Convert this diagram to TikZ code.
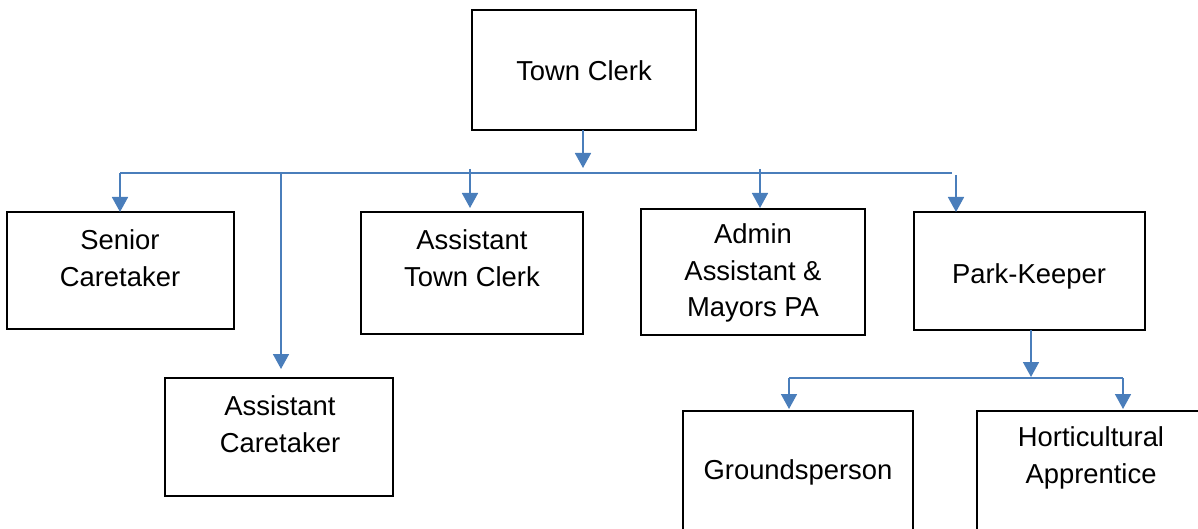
\documentclass[tikz,border=0pt]{standalone}
\usepackage{fontspec}
\setmainfont{Liberation Sans}
\usetikzlibrary{arrows.meta}
\definecolor{linkblue}{RGB}{74,126,187}
\begin{document}
\begin{tikzpicture}[x=1pt,y=-1pt,
  box/.style={draw=black,line width=1.1pt,fill=white},
  lbl/.style={inner sep=0pt,align=center,font=\fontsize{27.4}{36.5}\selectfont},
  link/.style={draw=linkblue,line width=1.7pt},
  arr/.style={link,-{Triangle[width=16pt,length=15pt]}}]
\useasboundingbox (0,0) rectangle (1198,529);
\clip (0,0) rectangle (1198,529);
% boxes
\draw[box] (472,10) rectangle (696,130);
\draw[box] (7,212) rectangle (234,329);
\draw[box] (165,378) rectangle (393,496);
\draw[box] (361,212) rectangle (583,334);
\draw[box] (641,209) rectangle (865,335);
\draw[box] (914,212) rectangle (1145,330);
\draw[box] (683,411) rectangle (913,545);
\draw[box] (977,411) rectangle (1210,545);
% named anchors
\coordinate (tcB) at (583,130);
\coordinate (tcT) at (583,168);
\coordinate (hL) at (120,173);
\coordinate (hR) at (952,173);
\coordinate (scT) at (120,212);
\coordinate (acS) at (281,173);
\coordinate (acT) at (281,369);
\coordinate (atcS) at (470,169);
\coordinate (atcT) at (470,208);
\coordinate (admS) at (760,169);
\coordinate (admT) at (760,208);
\coordinate (pkS) at (956,175);
\coordinate (pkT) at (956,212);
\coordinate (pkB) at (1031,330);
\coordinate (pkH) at (1031,377);
\coordinate (h2L) at (789,378);
\coordinate (h2R) at (1123,378);
\coordinate (gpT) at (789,409);
\coordinate (haT) at (1123,409);
% texts
\node[lbl] (tc) at (584,71) {Town Clerk};
\node[lbl] (sc) at (120,258) {Senior\\Caretaker};
\node[lbl] (ac) at (280,424) {Assistant\\Caretaker};
\node[lbl] (atc) at (472,258) {Assistant\\Town Clerk};
\node[lbl] (adm) at (753,273) {Admin\\Assistant \&\\Mayors PA};
\node[lbl] (pk) at (1029,276) {Park-Keeper};
\node[lbl] (gp) at (798,472) {Groundsperson};
\node[lbl] (ha) at (1091,458) {Horticultural\\Apprentice};
% connectors
\draw[arr] (tcB) -- (tcT);
\draw[link] (hR) -- (hL);
\draw[arr] (hL) -- (scT);
\draw[arr] (acS) -- (acT);
\draw[arr] (atcS) -- (atcT);
\draw[arr] (admS) -- (admT);
\draw[arr] (pkS) -- (pkT);
\draw[arr] (pkB) -- (pkH);
\draw[link] (h2L) -- (h2R);
\draw[arr] (h2L) -- (gpT);
\draw[arr] (h2R) -- (haT);
\end{tikzpicture}
\end{document}
